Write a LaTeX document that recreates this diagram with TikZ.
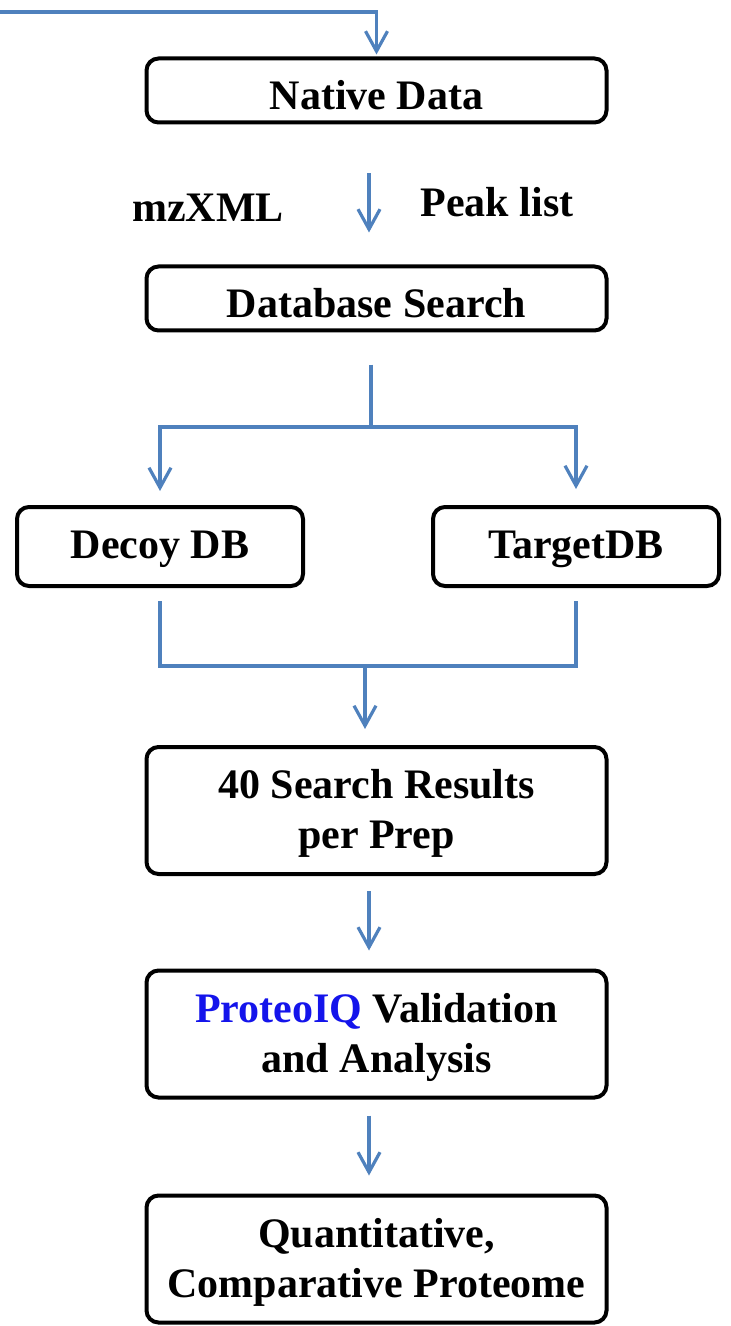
\documentclass[tikz,border=0pt]{standalone}
\usepackage{fontspec}
\setmainfont{Liberation Serif}
\usetikzlibrary{arrows.meta,calc}
\definecolor{lineblue}{HTML}{4F81BD}
\definecolor{textblue}{RGB}{20,20,235}
\tikzset{
  box/.style={draw=black, line width=2pt, rounded corners=6pt, fill=white,
    inner sep=0pt, align=center, font=\fontsize{21}{25}\selectfont\bfseries},
  wbox/.style={box, minimum width=230pt, minimum height=32pt, text height=19pt, text depth=0pt},
  tbox/.style={box, minimum width=230pt, minimum height=63.5pt, text depth=1.5pt},
  sbox/.style={box, minimum width=143pt, minimum height=39.5pt, text depth=1.5pt},
  lbl/.style={inner sep=0pt, font=\fontsize{21}{25}\selectfont\bfseries},
  conn/.style={draw=lineblue, line width=1.6pt},
  arr/.style={conn, -{Straight Barb[length=10pt,width=11pt,line width=1.6pt]}}
}
\begin{document}
\begin{tikzpicture}[x=0.5pt,y=-0.5pt]
\useasboundingbox (0,0) rectangle (731,1326);
\node[wbox] (native) at (376.5,90.5) {Native Data};
\node[wbox] (dbs) at (376.5,298.5) {Database Search};
\node[sbox] (decoy) at (160,546.5) {Decoy DB};
\node[sbox] (target) at (576,546.5) {TargetDB};
\node[tbox] (results) at (376.5,810.5) {40 Search Results\\per Prep};
\node[tbox] (proteo) at (376.5,1034) {\textcolor{textblue}{ProteoIQ} Validation\\and Analysis};
\node[tbox] (quant) at (376.5,1259) {Quantitative,\\Comparative Proteome};
\node[lbl] (mzxml) at (208,208) {mzXML};
\node[lbl] (peak) at (497,202) {Peak list};
% connectors
\coordinate (tl) at (0,12);
\draw[arr, shorten >=1pt] (tl) -| (native.north);
\draw[arr, shorten <=24.5pt, shorten >=16pt] ([xshift=-3.75pt]native.south) -- ([xshift=-3.75pt]dbs.north);
\coordinate (split) at (371,427);
\draw[conn] ($(dbs.south -| split)+(0,32)$) -- (split);
\draw[arr, shorten >=7pt] (split) -| (decoy.north);
\draw[arr, shorten >=8pt] (split) -| (target.north);
\coordinate (merge) at (365,666);
\draw[conn] ($(decoy.south)+(0,13)$) |- (merge);
\draw[conn] ($(target.south)+(0,13)$) |- (merge);
\draw[arr, shorten >=8pt] (merge) -- (merge |- results.north);
\draw[arr, shorten <=7.5pt, shorten >=9pt] ([xshift=-3.75pt]results.south) -- ([xshift=-3.75pt]proteo.north);
\draw[arr, shorten <=8pt, shorten >=9pt] ([xshift=-3.75pt]proteo.south) -- ([xshift=-3.75pt]quant.north);
\end{tikzpicture}
\end{document}
